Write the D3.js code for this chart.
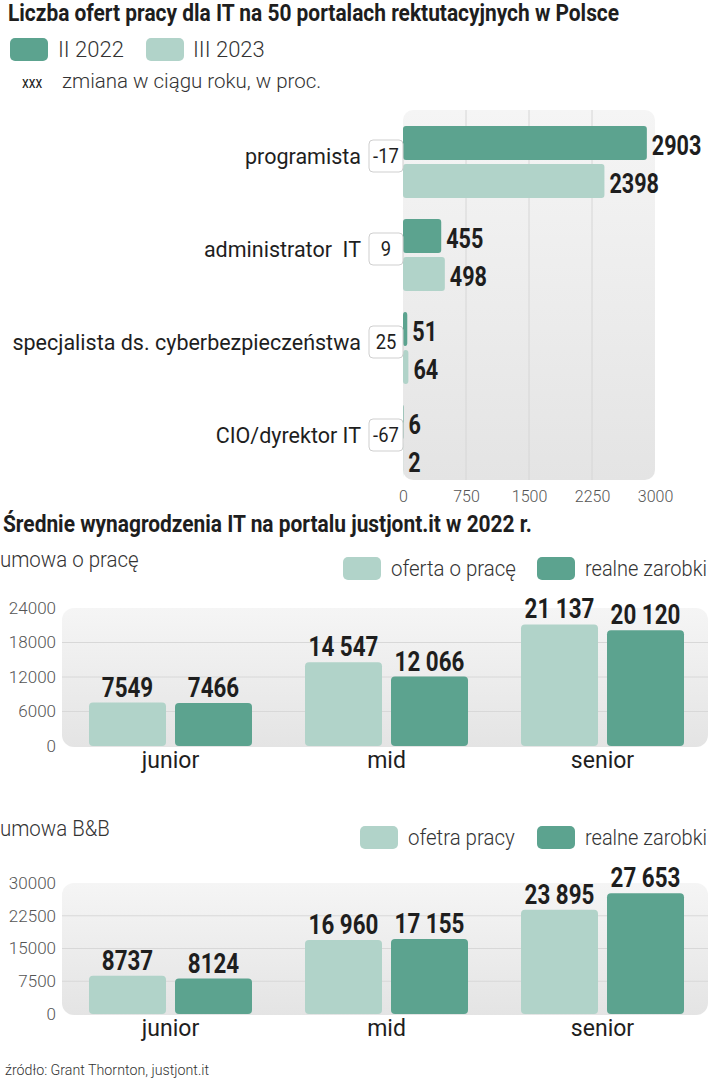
<!DOCTYPE html>
<html>
<head>
<meta charset="utf-8">
<script src="https://cdn.jsdelivr.net/npm/d3@7"></script>
<style>
  body { margin: 0; background: #fff; }
  svg { display: block; }
  text { font-family: "Roboto", "Noto Sans", sans-serif; }
</style>
</head>
<body>
<div id="vis"></div>
<script>
// chart 1 data
var jobs = ['programista', 'administrator  IT', 'specjalista ds. cyberbezpieczeństwa', 'CIO/dyrektor IT'];
var offers2022 = [2903, 455, 51, 6];
var offers2023 = [2398, 498, 64, 2];
var change = [-17, 9, 25, -67];
var jobTicks = [0, 750, 1500, 2250, 3000];

// chart 2 and 3 data
var levels = ['junior', 'mid', 'senior'];
var uopOffer = [7549, 14547, 21137];
var uopReal = [7466, 12066, 20120];
var uopTicks = [0, 6000, 12000, 18000, 24000];
var b2bOffer = [8737, 16960, 23895];
var b2bReal = [8124, 17155, 27653];
var b2bTicks = [0, 7500, 15000, 22500, 30000];

var dark = '#5ca38f';
var light = '#b1d3c9';
var squeeze = 0.8;   // no condensed font installed, so bold numbers get squeezed

var svg = d3.select('#vis')
    .append('svg')
    .attr('width', 710)
    .attr('height', 1080);

var defs = svg.append('defs');
var grad = defs.append('linearGradient')
    .attr('id', 'panel')
    .attr('x1', 0).attr('y1', 0).attr('x2', 0).attr('y2', 1);
grad.append('stop').attr('offset', '0%').attr('stop-color', '#f5f5f5');
grad.append('stop').attr('offset', '100%').attr('stop-color', '#e4e4e4');

function fmt(v) {
    if (v < 10000) return String(v);
    return d3.format(',')(v).replace(/,/g, ' ');
}

function at(x, y, sx) {
    return 'translate(' + x + ',' + y + ') scale(' + sx + ',1)';
}

function legendItem(g, x, y, color, label, tx, sx) {
    g.append('rect').attr('x', x).attr('y', y).attr('width', 38).attr('height', 23)
        .attr('rx', 5).style('fill', color);
    g.append('text').attr('transform', at(tx, y + 19, sx || 1))
        .text(label).style('font-size', '22px').style('font-weight', 300).style('fill', '#333');
}

// ---------- chart 1 ----------
svg.append('text').attr('transform', at(8, 21, 0.91))
    .text('Liczba ofert pracy dla IT na 50 portalach rektutacyjnych w Polsce')
    .style('font-size', '23px').style('font-weight', 'bold').style('fill', '#1e1e1e');

legendItem(svg, 10, 38, dark, 'II 2022', 58);
legendItem(svg, 146, 38, light, 'III 2023', 193);

svg.append('text').attr('transform', at(22, 88, 0.85))
    .text('xxx').style('font-size', '16px').style('fill', '#222');
svg.append('text').attr('transform', at(62, 88, 1))
    .text('zmiana w ciągu roku, w proc.')
    .style('font-size', '20.5px').style('font-weight', 300).style('fill', '#333');

var x1 = d3.scaleLinear().domain([0, 3000]).range([403, 655]);
var yJob = d3.scaleBand().domain(jobs).range([126, 477]).paddingInner(21 / 93).paddingOuter(0);
var ySer = d3.scaleBand().domain(['2022', '2023']).range([0, yJob.bandwidth()]).paddingInner(4 / 38);

svg.append('rect').attr('x', x1(0)).attr('y', 110)
    .attr('width', x1(3000) - x1(0)).attr('height', 370)
    .attr('rx', 10).style('fill', 'url(#panel)');

svg.append('g').selectAll('line')
    .data(jobTicks.slice(1, -1))
    .enter().append('line')
    .attr('x1', function(d) { return x1(d); })
    .attr('x2', function(d) { return x1(d); })
    .attr('y1', 110).attr('y2', 480)
    .style('stroke', '#d6d6d6').style('stroke-width', 1);

var xAxis1 = svg.append('g')
    .attr('transform', 'translate(0,485)')
    .call(d3.axisBottom(x1).tickValues(jobTicks).tickSize(0).tickPadding(6).tickFormat(d3.format('d')));
xAxis1.select('.domain').remove();
xAxis1.selectAll('text')
    .style('font-family', 'Roboto').style('font-size', '16px').style('font-weight', 300).style('fill', '#555');

var rows = jobs.map(function(j, i) {
    return { job: j, v2022: offers2022[i], v2023: offers2023[i], change: change[i] };
});

var jobG = svg.append('g').selectAll('g')
    .data(rows)
    .enter().append('g')
    .attr('transform', function(d) { return 'translate(0,' + yJob(d.job) + ')'; });

jobG.append('rect')
    .attr('x', x1(0))
    .attr('y', ySer('2022'))
    .attr('width', function(d) { return x1(d.v2022) - x1(0); })
    .attr('height', ySer.bandwidth())
    .attr('rx', 3)
    .style('fill', dark);

jobG.append('rect')
    .attr('x', x1(0))
    .attr('y', ySer('2023'))
    .attr('width', function(d) { return x1(d.v2023) - x1(0); })
    .attr('height', ySer.bandwidth())
    .attr('rx', 3)
    .style('fill', light);

jobG.append('text')
    .attr('transform', function(d) { return at(x1(d.v2022) + 5, ySer('2022') + ySer.bandwidth() / 2, squeeze); })
    .attr('dy', '0.43em')
    .text(function(d) { return d.v2022; })
    .style('font-size', '27px').style('font-weight', 'bold').style('fill', '#1e1e1e');

jobG.append('text')
    .attr('transform', function(d) { return at(x1(d.v2023) + 5, ySer('2023') + ySer.bandwidth() / 2, squeeze); })
    .attr('dy', '0.43em')
    .text(function(d) { return d.v2023; })
    .style('font-size', '27px').style('font-weight', 'bold').style('fill', '#1e1e1e');

var mid = yJob.bandwidth() / 2 - 6;

jobG.append('rect')
    .attr('x', 369).attr('y', mid - 16)
    .attr('width', 34).attr('height', 32)
    .attr('rx', 4)
    .style('fill', '#fff').style('stroke', '#cfcfcf').style('stroke-width', 1);

jobG.append('text')
    .attr('transform', at(386, mid, 0.92))
    .attr('dy', '0.36em')
    .attr('text-anchor', 'middle')
    .text(function(d) { return d.change; })
    .style('font-size', '20px').style('fill', '#1e1e1e');

jobG.append('text')
    .attr('x', 361).attr('y', mid).attr('dy', '0.36em')
    .attr('text-anchor', 'end')
    .style('white-space', 'pre')
    .text(function(d) { return d.job; })
    .style('font-size', '21.5px').style('fill', '#1e1e1e');

// ---------- chart 2 and 3 ----------
svg.append('text').attr('transform', at(3, 532, 0.91))
    .text('Średnie wynagrodzenia IT na portalu justjont.it w 2022 r.')
    .style('font-size', '23px').style('font-weight', 'bold').style('fill', '#1e1e1e');

var xLevel = d3.scaleBand().domain(levels).range([89, 684]).paddingInner(53 / 216).paddingOuter(0);
var xSer = d3.scaleBand().domain(['offer', 'real']).range([0, xLevel.bandwidth()]).paddingInner(9 / 86);

function salaryChart(opt) {
    var y = d3.scaleLinear().domain([0, opt.ticks[opt.ticks.length - 1]]).range([opt.bottom, opt.top]);

    svg.append('text').attr('transform', at(0, opt.titleY, 0.93))
        .text(opt.title).style('font-size', '22px').style('font-weight', 300).style('fill', '#333');

    legendItem(svg, opt.legX1, opt.legY, light, opt.offerLabel, opt.legX1 + 48, 0.93);
    legendItem(svg, 537, opt.legY, dark, 'realne zarobki', 585, 0.91);

    svg.append('rect').attr('x', 62).attr('y', opt.top)
        .attr('width', 646).attr('height', opt.bottom - opt.top + 1)
        .attr('rx', 12).style('fill', 'url(#panel)');

    svg.append('g').selectAll('line')
        .data(opt.ticks.slice(1, -1))
        .enter().append('line')
        .attr('x1', 62).attr('x2', 708)
        .attr('y1', function(d) { return y(d); })
        .attr('y2', function(d) { return y(d); })
        .style('stroke', '#d8d8d8').style('stroke-width', 1);

    var yAxis = svg.append('g')
        .attr('transform', 'translate(56,0)')
        .call(d3.axisLeft(y).tickValues(opt.ticks).tickSize(0).tickPadding(0).tickFormat(d3.format('d')));
    yAxis.select('.domain').remove();
    yAxis.selectAll('text')
        .style('font-family', 'Roboto').style('font-size', '17px').style('font-weight', 300).style('fill', '#555');

    var xAxis = svg.append('g')
        .attr('transform', 'translate(0,' + (opt.bottom + 2) + ')')
        .call(d3.axisBottom(xLevel).tickSize(0).tickPadding(4));
    xAxis.select('.domain').remove();
    xAxis.selectAll('text')
        .style('font-family', 'Roboto').style('font-size', '23px').style('fill', '#1e1e1e');

    var data = levels.map(function(l, i) {
        return { level: l, vals: [['offer', opt.offer[i]], ['real', opt.real[i]]] };
    });

    var g = svg.append('g').selectAll('g')
        .data(data)
        .enter().append('g')
        .attr('transform', function(d) { return 'translate(' + xLevel(d.level) + ',0)'; });

    g.selectAll('rect')
        .data(function(d) { return d.vals; })
        .enter().append('rect')
        .attr('x', function(d) { return xSer(d[0]); })
        .attr('y', function(d) { return y(d[1]); })
        .attr('width', xSer.bandwidth())
        .attr('height', function(d) { return opt.bottom - y(d[1]); })
        .attr('rx', 4)
        .style('fill', function(d) { return d[0] == 'offer' ? light : dark; });

    g.selectAll('text')
        .data(function(d) { return d.vals; })
        .enter().append('text')
        .attr('transform', function(d) { return at(xSer(d[0]) + xSer.bandwidth() / 2, y(d[1]) - 6, squeeze); })
        .attr('text-anchor', 'middle')
        .text(function(d) { return fmt(d[1]); })
        .style('font-size', '28px').style('font-weight', 'bold').style('fill', '#1e1e1e');
}

salaryChart({
    title: 'umowa o pracę', titleY: 567,
    offerLabel: 'oferta o pracę', legX1: 343, legY: 557,
    offer: uopOffer, real: uopReal, ticks: uopTicks,
    top: 608, bottom: 746
});

salaryChart({
    title: 'umowa B&B', titleY: 836,
    offerLabel: 'ofetra pracy', legX1: 360, legY: 826,
    offer: b2bOffer, real: b2bReal, ticks: b2bTicks,
    top: 883, bottom: 1014
});

svg.append('text').attr('transform', at(5, 1075, 0.95))
    .text('źródło: Grant Thornton, justjont.it')
    .style('font-size', '15px').style('font-weight', 300).style('fill', '#333');
</script>
</body>
</html>
